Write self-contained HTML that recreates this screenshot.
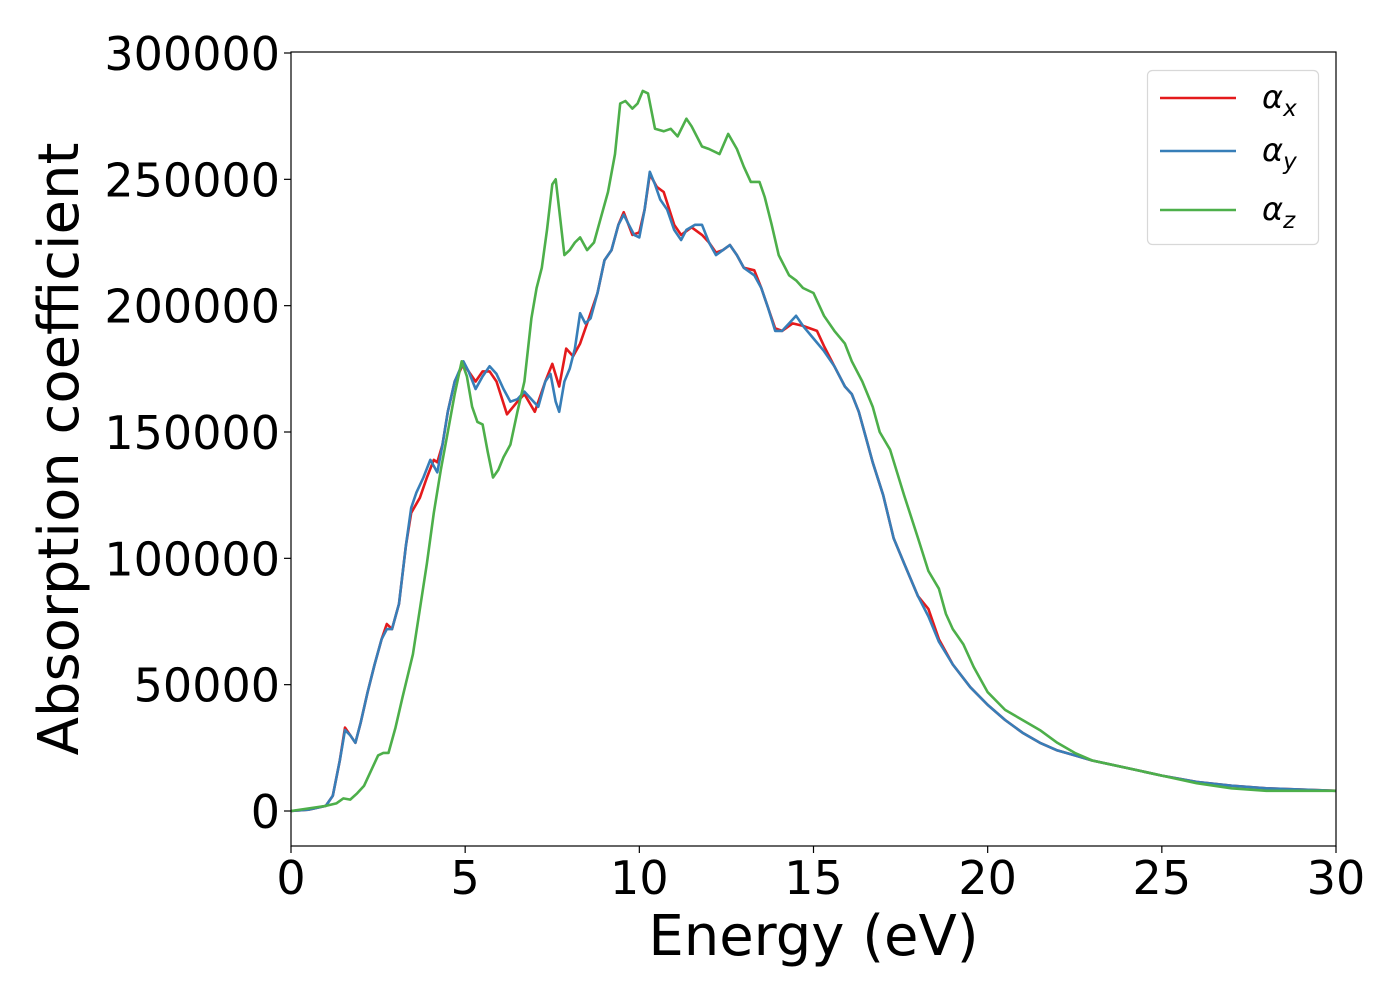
<!DOCTYPE html>
<html><head><meta charset="utf-8"><style>
body{margin:0;background:#fff;}
svg text{font-family:"DejaVu Sans","Liberation Sans",sans-serif;}
</style></head><body>
<svg id="chart" width="1400" height="1000" xmlns="http://www.w3.org/2000/svg">
<rect x="0" y="0" width="1400" height="1000" fill="#fff"/>
<g id="plot"></g>
</svg>
<script>
const xTicks=[0,5,10,15,20,25,30];
const yTicks=[0,50000,100000,150000,200000,250000,300000];
const yTickLabels=["0","50000","100000","150000","200000","250000","300000"];
const ex=[0,0.5,1.0,1.2,1.4,1.55,1.7,1.85,2.0,2.2,2.4,2.6,2.75,2.9,3.1,3.3,3.45,3.7,3.9,4.1,4.2,4.35,4.5,4.7,4.95,5.1,5.3,5.5,5.7,5.9,6.2,6.5,6.7,7.0,7.3,7.5,7.7,7.9,8.1,8.3,8.5,8.8,9.0,9.2,9.4,9.55,9.8,10.0,10.15,10.3,10.5,10.7,11.0,11.2,11.5,11.8,12.0,12.2,12.4,12.6,12.8,13.0,13.3,13.5,13.7,13.9,14.1,14.4,14.7,15.1,15.3,15.6,15.9,16.1,16.3,16.5,16.7,17.0,17.3,17.6,18.0,18.3,18.6,19.0,19.5,20.0,20.5,21.0,21.5,22.0,22.5,23.0,24.0,25.0,26.0,27.0,28.0,29.0,30.0];
const alphaX=[0,0.5,2,6,20,33,30,27,35,47,58,68,74,72,82,105,118,124,132,139,138,145,158,170,177,174,170,174,174,170,157,162,165,158,170,177,168,183,180,185,193,205,218,222,232,237,228,229,238,252,247,245,232,228,231,228,225,221,222,224,220,215,214,207,199,191,190,193,192,190,184,176,168,165,158,148,138,125,108,98,85,80,68,58,49,42,36,31,27,24,22,20,17,14,11.5,10,9,8.5,8];
const yx=[0,0.5,1.0,1.2,1.4,1.55,1.7,1.85,2.0,2.2,2.4,2.6,2.75,2.9,3.1,3.3,3.45,3.6,3.8,4.0,4.2,4.35,4.5,4.7,4.95,5.1,5.3,5.5,5.7,5.9,6.1,6.3,6.5,6.7,6.9,7.1,7.3,7.45,7.6,7.7,7.85,8.0,8.15,8.3,8.45,8.6,8.8,9.0,9.2,9.4,9.55,9.7,9.85,10.0,10.15,10.3,10.45,10.6,10.8,11.0,11.2,11.35,11.6,11.8,12.0,12.2,12.4,12.6,12.8,13.0,13.3,13.5,13.7,13.9,14.1,14.3,14.5,14.7,15.0,15.3,15.6,15.9,16.1,16.3,16.5,16.7,17.0,17.3,17.6,18.0,18.3,18.6,19.0,19.5,20.0,20.5,21.0,21.5,22.0,22.5,23.0,24.0,25.0,26.0,27.0,28.0,29.0,30.0];
const alphaY=[0,0.5,2,6,20,32,30,27,35,47,58,68,72,72,82,105,120,126,132,139,134,145,158,170,178,174,167,172,176,173,167,162,163,166,163,160,170,173,162,158,170,175,183,197,193,195,205,218,222,232,236,232,228,227,238,253,248,242,238,230,226,230,232,232,225,220,222,224,220,215,212,207,199,190,190,193,196,192,187,182,176,168,165,158,148,138,125,108,98,85,77,67,58,49,42,36,31,27,24,22,20,17,14,11.5,10,9,8.5,8];
const zx=[0,1.0,1.3,1.5,1.7,1.9,2.1,2.3,2.5,2.65,2.8,3.0,3.2,3.5,3.7,3.9,4.1,4.3,4.5,4.7,4.9,5.05,5.2,5.35,5.5,5.65,5.8,5.95,6.1,6.3,6.5,6.7,6.9,7.05,7.2,7.35,7.5,7.6,7.7,7.85,8.0,8.15,8.3,8.5,8.7,8.9,9.1,9.3,9.45,9.6,9.8,9.95,10.1,10.25,10.45,10.7,10.9,11.1,11.35,11.5,11.8,12.0,12.3,12.55,12.8,13.0,13.2,13.45,13.6,13.8,14.0,14.3,14.5,14.7,15.0,15.3,15.6,15.9,16.1,16.4,16.7,16.9,17.2,17.6,18.0,18.3,18.6,18.8,19.0,19.3,19.6,20.0,20.5,21.0,21.5,22.0,22.5,23.0,24.0,25.0,26.0,27.0,28.0,29.0,30.0];
const alphaZ=[0,2,3,5,4.5,7,10,16,22,23,23,33,45,62,80,98,118,135,150,165,178,172,160,154,153,142,132,135,140,145,158,170,195,207,215,230,248,250,238,220,222,225,227,222,225,235,245,260,280,281,278,280,285,284,270,269,270,267,274,271,263,262,260,268,262,255,249,249,243,232,220,212,210,207,205,196,190,185,178,170,160,150,143,125,108,95,88,78,72,66,57,47,40,36,32,27,23,20,17,14,11,9,8,8,8];

const L=291,R=1336,T=52,B=846;
const xs=v=>L+(v-0)/30*(R-L);
const y0=811,y300=53;
const ys=v=>y0+(v/300000)*(y300-y0);
const NS="http://www.w3.org/2000/svg";
const g=document.getElementById('plot');
function mk(tag,attrs){const e=document.createElementNS(NS,tag);for(const k in attrs)e.setAttribute(k,attrs[k]);g.appendChild(e);return e;}

function series(xa,ya,color,name){
  let d="";
  for(let i=0;i<xa.length;i++){d+=(i?"L":"M")+xs(xa[i]).toFixed(1)+","+ys(ya[i]*1000).toFixed(1);}
  const p=mk('path',{d:d,fill:'none',stroke:color,'stroke-width':2.6,'stroke-linejoin':'round'});
  
  
}
const cp=document.createElementNS(NS,'clipPath');cp.id='clip';
const cr=document.createElementNS(NS,'rect');cr.setAttribute('x',L);cr.setAttribute('y',T);cr.setAttribute('width',R-L);cr.setAttribute('height',B-T);
cp.appendChild(cr);g.appendChild(cp);
series(ex,alphaX,'#e41a1c','alpha-x-line');
series(yx,alphaY,'#377eb8','alpha-y-line');
series(zx,alphaZ,'#4daf4a','alpha-z-line');

const frame=mk('rect',{x:L,y:T,width:R-L,height:B-T,fill:'none',stroke:'#000','stroke-width':1.2});



xTicks.forEach(v=>{
  const x=xs(v);
  mk('line',{x1:x,x2:x,y1:B,y2:B+7,stroke:'#000','stroke-width':1.2});
  const t=mk('text',{x:x,y:B+48,'text-anchor':'middle','font-size':46,fill:'#000'});
  t.textContent=String(v);
  
  
});
yTicks.forEach((v,i)=>{
  const y=ys(v);
  mk('line',{x1:L-7,x2:L,y1:y,y2:y,stroke:'#000','stroke-width':1.2});
  const t=mk('text',{x:L-11,y:y+17,'text-anchor':'end','font-size':46,fill:'#000'});
  t.textContent=yTickLabels[i];
  
  
});
const xl=mk('text',{x:(L+R)/2,y:955,'text-anchor':'middle','font-size':56,fill:'#000'});
xl.textContent='Energy (eV)';


const yl=mk('text',{x:0,y:0,'text-anchor':'middle','font-size':56,fill:'#000',transform:'translate(78,449) rotate(-90)'});
yl.textContent='Absorption coefficient';



const lg=mk('rect',{x:1147.5,y:70.5,width:171,height:174,rx:5,fill:'#fff',stroke:'#d8d8d8','stroke-width':1.2});


const ent=[['#e41a1c','x',98],['#377eb8','y',151],['#4daf4a','z',210]];
ent.forEach(e=>{
  mk('line',{x1:1160,x2:1236,y1:e[2],y2:e[2],stroke:e[0],'stroke-width':2.6});
  const t=mk('text',{x:1262,y:e[2]+10,'font-size':32,'font-style':'italic',fill:'#000'});
  t.innerHTML='α<tspan font-size="23" dy="8">'+e[1]+'</tspan>';
  
  
});
</script>
</body></html>
